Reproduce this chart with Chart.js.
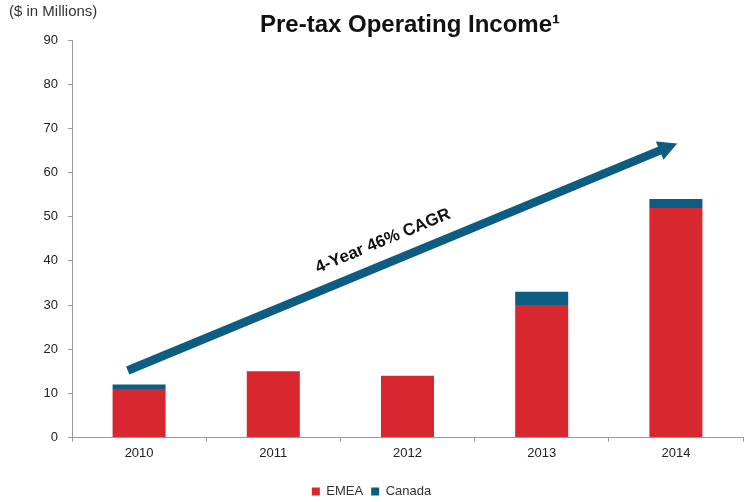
<!DOCTYPE html>
<html>
<head>
<meta charset="utf-8">
<script src="https://cdn.jsdelivr.net/npm/chart.js@4"></script>
<style>
  html, body { margin: 0; padding: 0; background: #fff; }
  #wrap { width: 745px; height: 502px; }
</style>
</head>
<body>
<div id="wrap"><canvas id="incomeChart" width="745" height="502"></canvas></div>
<script>
// Données (en millions de $)
var annees = ["2010", "2011", "2012", "2013", "2014"];
var emea = [11, 15, 14, 30, 52];
var canada = [1, 0, 0, 3, 2];
var yTicks = [0, 10, 20, 30, 40, 50, 60, 70, 80, 90];

// Flèche de croissance, en coordonnées de données [index catégorie, valeur]
var flecheDebut = [-0.085, 15.2];
var flecheFin = [4.01, 66.6];
var flecheTexte = "4-Year 46% CAGR";

var titre = "Pre-tax Operating Income\u00B9";
var sousTitre = "($ in Millions)";

var rouge = "#D8272E";
var bleu = "#0D5C82";
var police = "'Liberation Sans', Arial, sans-serif";

// Titre et mention des unités
var pluginTitre = {
  id: "titre",
  afterDraw: function (chart) {
    var ctx = chart.ctx;
    ctx.save();
    ctx.fillStyle = "#111";
    ctx.font = "bold 24px " + police;
    ctx.textAlign = "center";
    ctx.textBaseline = "alphabetic";
    ctx.fillText(titre, 410, 32);
    ctx.fillStyle = "#333";
    ctx.font = "15px " + police;
    ctx.textAlign = "left";
    ctx.textBaseline = "middle";
    ctx.fillText(sousTitre, 9, 12);
    ctx.restore();
  },
};

// Flèche CAGR dessinée à partir des échelles
var pluginFleche = {
  id: "fleche",
  afterDatasetsDraw: function (chart) {
    var x = chart.scales.x, y = chart.scales.y, ctx = chart.ctx;
    var x1 = x.getPixelForValue(flecheDebut[0]), y1 = y.getPixelForValue(flecheDebut[1]);
    var x2 = x.getPixelForValue(flecheFin[0]), y2 = y.getPixelForValue(flecheFin[1]);
    var angle = Math.atan2(y2 - y1, x2 - x1);
    var tete = 19;
    ctx.save();
    ctx.strokeStyle = bleu;
    ctx.fillStyle = bleu;
    ctx.lineWidth = 8.5;
    ctx.beginPath();
    ctx.moveTo(x1, y1);
    ctx.lineTo(x2 - tete * 0.8 * Math.cos(angle), y2 - tete * 0.8 * Math.sin(angle));
    ctx.stroke();
    ctx.translate(x2, y2);
    ctx.rotate(angle);
    ctx.beginPath();
    ctx.moveTo(0, 0);
    ctx.lineTo(-tete, -10);
    ctx.lineTo(-tete, 10);
    ctx.closePath();
    ctx.fill();
    ctx.restore();

    // libellé au-dessus de la flèche
    var t = 0.48;
    var mx = x1 + (x2 - x1) * t, my = y1 + (y2 - y1) * t;
    ctx.save();
    ctx.translate(mx, my);
    ctx.rotate(angle);
    ctx.fillStyle = "#111";
    ctx.font = "bold 17px " + police;
    ctx.textAlign = "center";
    ctx.textBaseline = "middle";
    ctx.fillText(flecheTexte, 0, -22);
    ctx.restore();
  },
};

var ctx = document.getElementById("incomeChart").getContext("2d");

var myChart = new Chart(ctx, {
  type: "bar",
  data: {
    labels: annees,
    datasets: [
      { label: "EMEA", data: emea, backgroundColor: rouge, barPercentage: 0.395, categoryPercentage: 1 },
      { label: "Canada", data: canada, backgroundColor: bleu, barPercentage: 0.395, categoryPercentage: 1 },
    ],
  },
  options: {
    responsive: false,
    animation: false,
    layout: { padding: { top: 40, right: 2, left: 0, bottom: -6 } },
    scales: {
      x: {
        stacked: true,
        afterFit: function (axis) { axis.height = 39.4; },
        grid: { drawOnChartArea: false, color: "#999", tickLength: 4, offset: true },
        border: { color: "#999" },
        ticks: { color: "#222", font: { size: 13, family: police }, padding: 4 },
      },
      y: {
        stacked: true,
        min: 0,
        max: 90,
        afterBuildTicks: function (axis) {
          axis.ticks = yTicks.map(function (v) { return { value: v }; });
        },
        afterFit: function (axis) { axis.width = 72; },
        grid: { drawOnChartArea: false, color: "#999", tickLength: 4 },
        border: { color: "#999" },
        ticks: { color: "#222", font: { size: 13, family: police }, padding: 10 },
      },
    },
    plugins: {
      tooltip: { enabled: false },
      legend: {
        position: "bottom",
        labels: {
          boxWidth: 8,
          boxHeight: 8,
          color: "#333",
          font: { size: 13, family: police },
          padding: 8,
        },
      },
    },
  },
  plugins: [pluginTitre, pluginFleche],
});
</script>
</body>
</html>
